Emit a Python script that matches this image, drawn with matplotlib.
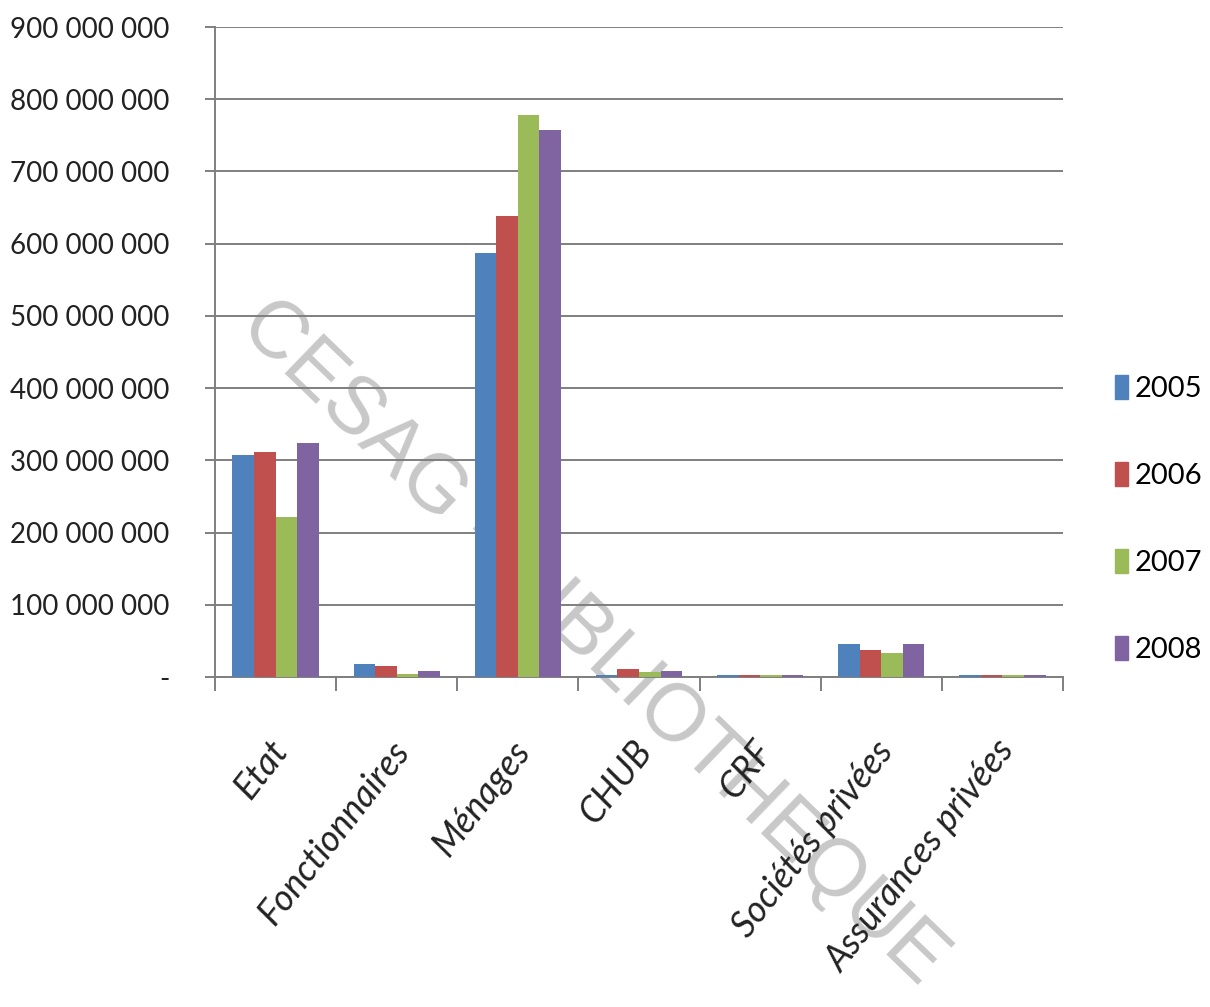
import matplotlib
matplotlib.use("Agg")
import matplotlib.pyplot as plt
import numpy as np
from matplotlib.ticker import FuncFormatter

categories = ["Etat", "Fonctionnaires", "Ménages", "CHUB", "CRF", "Sociétés privées", "Assurances privées"]
years = ["2005", "2006", "2007", "2008"]
v2005 = [307e6, 18e6, 587e6, 3e6, 2.5e6, 46e6, 2.5e6]
v2006 = [311e6, 15e6, 638e6, 11e6, 2.5e6, 37e6, 2.5e6]
v2007 = [221e6, 4e6, 778e6, 7e6, 2.5e6, 33e6, 2.5e6]
v2008 = [324e6, 8e6, 757e6, 8e6, 2.5e6, 46e6, 2.5e6]
series = [v2005, v2006, v2007, v2008]
colors = ["#4F81BD", "#C0504D", "#9BBB59", "#8064A2"]
yticks = [0, 100e6, 200e6, 300e6, 400e6, 500e6, 600e6, 700e6, 800e6, 900e6]

plt.rcParams['font.family'] = ['Lato', 'DejaVu Sans']

fig = plt.figure(figsize=(12.10, 10.07), dpi=100)
ax = fig.add_axes([215/1210, 1-677/1007, (1063-215)/1210, (677-27)/1007])
ax.patch.set_visible(False)

x = np.arange(len(categories))
bw = 0.178
for i, (vals, c, y) in enumerate(zip(series, colors, years)):
    ax.bar(x + (i - 1.5) * bw, vals, width=bw, color=c, label=y, zorder=3)

ax.set_xlim(-0.5, len(categories) - 0.5)
ax.set_ylim(0, 900e6)
ax.set_yticks(yticks)

def fmt(v, pos):
    if v == 0:
        return "-"
    return "{:,.0f}".format(v).replace(",", " ")

ax.yaxis.set_major_formatter(FuncFormatter(fmt))
ax.grid(axis='y', color='#7f7f7f', linewidth=1.4, zorder=0)
ax.set_axisbelow(True)
for s in ['top', 'right']:
    ax.spines[s].set_visible(False)
for s in ['left', 'bottom']:
    ax.spines[s].set_color('#7f7f7f')
    ax.spines[s].set_linewidth(1.4)

ax.tick_params(axis='y', length=7, width=1.4, color='#7f7f7f', pad=26, labelsize=20, labelcolor='#222222')
ax.set_xticks(np.arange(-0.5, len(categories), 1.0))
ax.set_xticklabels([])
ax.tick_params(axis='x', length=10, width=1.4, color='#7f7f7f')
for xi, lab in zip(x, categories):
    ax.text(xi - 0.06, -80e6, lab, rotation=52, ha='right', va='top', rotation_mode='anchor',
            fontsize=26, style='italic', color='#222222', transform=ax.transData, zorder=5)

handles = [plt.Rectangle((0, 0), 1, 1, color=c) for c in colors]
fig.legend(handles, years, loc='center left', bbox_to_anchor=(1103/1210, 1-519/1007),
           frameon=False, fontsize=21, handlelength=0.45, handleheight=0.9,
           handletextpad=0.25, labelspacing=2.05, borderaxespad=0)

fig.text(593/1210, 1-642/1007, "CESAG - BIBLIOTHEQUE", rotation=-44, ha='center', va='center',
         fontsize=58, color='#c8c8c8', family='Liberation Sans', zorder=-1)

fig.savefig("out.png", dpi=100, facecolor='white')
